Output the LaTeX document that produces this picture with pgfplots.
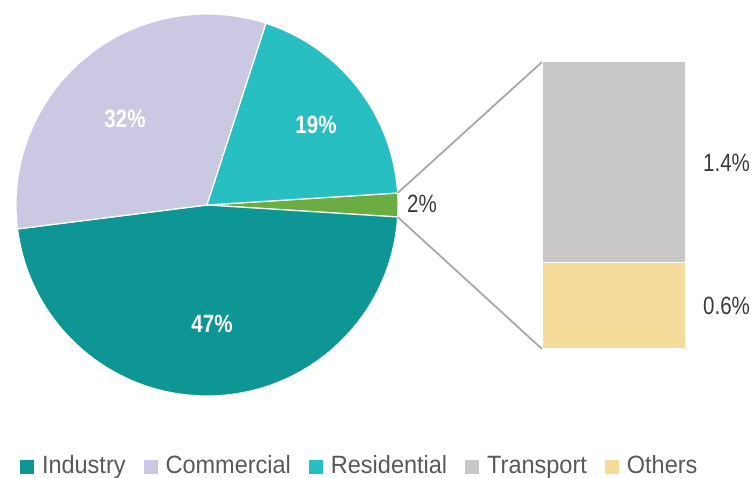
\documentclass[border=0pt]{standalone}
\usepackage{fontspec}
\setmainfont{Liberation Sans}
\newfontfamily\condfont{Liberation Sans}[FakeStretch=0.94]
\newfontfamily\numfont{Liberation Sans}[FakeStretch=0.82]
\usepackage{pgfplots}
\usepackage{pgfplotstable}
\pgfplotsset{compat=1.18}
\definecolor{cInd}{HTML}{0E9694}
\definecolor{cCom}{HTML}{CBC8E4}
\definecolor{cRes}{HTML}{27BFC1}
\definecolor{cGrn}{HTML}{6BAD43}
\definecolor{cTra}{HTML}{C9C8C6}
\definecolor{cOth}{HTML}{F5DC9B}
\definecolor{conn}{HTML}{A8A8A8}
\definecolor{legtext}{HTML}{595959}
\definecolor{numtext}{HTML}{3A3A3A}
\colorlet{pc0}{cGrn}
\colorlet{pc1}{cInd}
\colorlet{pc2}{cCom}
\colorlet{pc3}{cRes}
\pgfplotsset{sqleg/.style={legend image code/.code={\fill[##1, draw=none] (0pt,-7pt) rectangle (14pt,7pt);}}}

% pie: value (%), label position (relative to centre, in px)
\pgfplotstableread{
value lx ly
2 200 1
47 5 -119
32 -82 86
19 109 80
}\piedata

% bar of pie: breakdown of the 2% slice
\pgfplotstableread{
x others transport
0 0.6 1.4
}\bardata

\begin{document}
\begin{tikzpicture}
\useasboundingbox (0,0) rectangle (751pt,478pt);
% cumulative angles (clockwise, green slice centred on 0 deg)
\pgfplotstablegetelem{0}{value}\of\piedata
\pgfmathsetmacro\curang{1.8*\pgfplotsretval}
\xdef\curang{\curang}
\foreach \i in {0,1,2,3}{%
  \pgfplotstablegetelem{\i}{value}\of\piedata
  \expandafter\xdef\csname pv\i\endcsname{\pgfplotsretval}%
  \pgfmathsetmacro\endang{\curang-3.6*\pgfplotsretval}%
  \pgfmathsetmacro\sx{191*cos(\curang)}%
  \pgfmathsetmacro\sy{191*sin(\curang)}%
  \expandafter\xdef\csname sa\i\endcsname{\curang}%
  \expandafter\xdef\csname ea\i\endcsname{\endang}%
  \expandafter\xdef\csname sx\i\endcsname{\sx}%
  \expandafter\xdef\csname sy\i\endcsname{\sy}%
  \pgfplotstablegetelem{\i}{lx}\of\piedata
  \expandafter\xdef\csname lx\i\endcsname{\pgfplotsretval}%
  \pgfplotstablegetelem{\i}{ly}\of\piedata
  \expandafter\xdef\csname ly\i\endcsname{\pgfplotsretval}%
  \xdef\curang{\endang}%
}
\begin{axis}[
  at={(0,0)}, anchor=south west,
  x=1pt, y=1pt,
  xmin=-207, xmax=544, ymin=-273, ymax=205,
  hide axis, clip=false,
  sqleg,
  legend columns=-1,
  legend style={at={(axis cs:-187,-262)}, anchor=west, draw=none, fill=none,
    inner sep=0pt, outer sep=0pt,
    font=\condfont\fontsize{25}{30}\selectfont, text=legtext,
    nodes={inner sep=0pt, outer sep=0pt, text height=18pt, text depth=5pt},
    /tikz/every odd column/.append style={column sep=8pt},
    /tikz/every even column/.append style={column sep=18pt}},
]
\pgfplotsinvokeforeach{0,1,2,3}{%
  \edef\doslice{\noexpand\fill[pc#1, draw=white, line width=1.2pt] (axis cs:0,0) -- (axis cs:\csname sx#1\endcsname,\csname sy#1\endcsname) arc[start angle=\csname sa#1\endcsname, end angle=\csname ea#1\endcsname, radius=191pt] -- cycle;}%
  \doslice
}
\pgfplotsinvokeforeach{1,2,3}{%
  \edef\dolabel{\noexpand\node[text=white, font=\noexpand\numfont\noexpand\bfseries\noexpand\fontsize{25}{25}\noexpand\selectfont] at (axis cs:\csname lx#1\endcsname,\csname ly#1\endcsname) {\csname pv#1\endcsname\noexpand\%};}%
  \dolabel
}
\edef\doextra{%
\noexpand\node[anchor=west, inner sep=0pt, text=numtext, font=\noexpand\numfont\noexpand\fontsize{25}{25}\noexpand\selectfont] at (axis cs:\csname lx0\endcsname,\csname ly0\endcsname) {\csname pv0\endcsname\noexpand\%};
\noexpand\draw[conn, line width=1.8pt] (axis cs:\csname sx0\endcsname,\csname sy0\endcsname) -- (axis cs:335,143);
\noexpand\draw[conn, line width=1.8pt] (axis cs:\csname sx1\endcsname,\csname sy1\endcsname) -- (axis cs:335,-144);}
\doextra
\addlegendimage{fill=cInd}\addlegendentry{Industry}
\addlegendimage{fill=cCom}\addlegendentry{Commercial}
\addlegendimage{fill=cRes}\addlegendentry{Residential}
\addlegendimage{fill=cTra}\addlegendentry{Transport}
\addlegendimage{fill=cOth}\addlegendentry{Others}
\end{axis}
\begin{axis}[
  at={(542pt,129pt)}, anchor=south west,
  scale only axis, width=143pt, height=287pt,
  xmin=-0.5, xmax=0.5, ymin=0, ymax=2,
  hide axis, clip=false,
  ybar stacked, bar width=143pt,
]
\addplot[fill=cOth, draw=white, line width=1pt] table[x=x, y=others] {\bardata};
\addplot[fill=cTra, draw=white, line width=1pt] table[x=x, y=transport] {\bardata};
\node[anchor=west, inner sep=0pt, text=numtext, font=\numfont\fontsize{25}{25}\selectfont] at (axis cs:0.5,1.3) [xshift=18pt] {1.4\%};
\node[anchor=west, inner sep=0pt, text=numtext, font=\numfont\fontsize{25}{25}\selectfont] at (axis cs:0.5,0.3) [xshift=18pt] {0.6\%};
\end{axis}
\end{tikzpicture}
\end{document}
